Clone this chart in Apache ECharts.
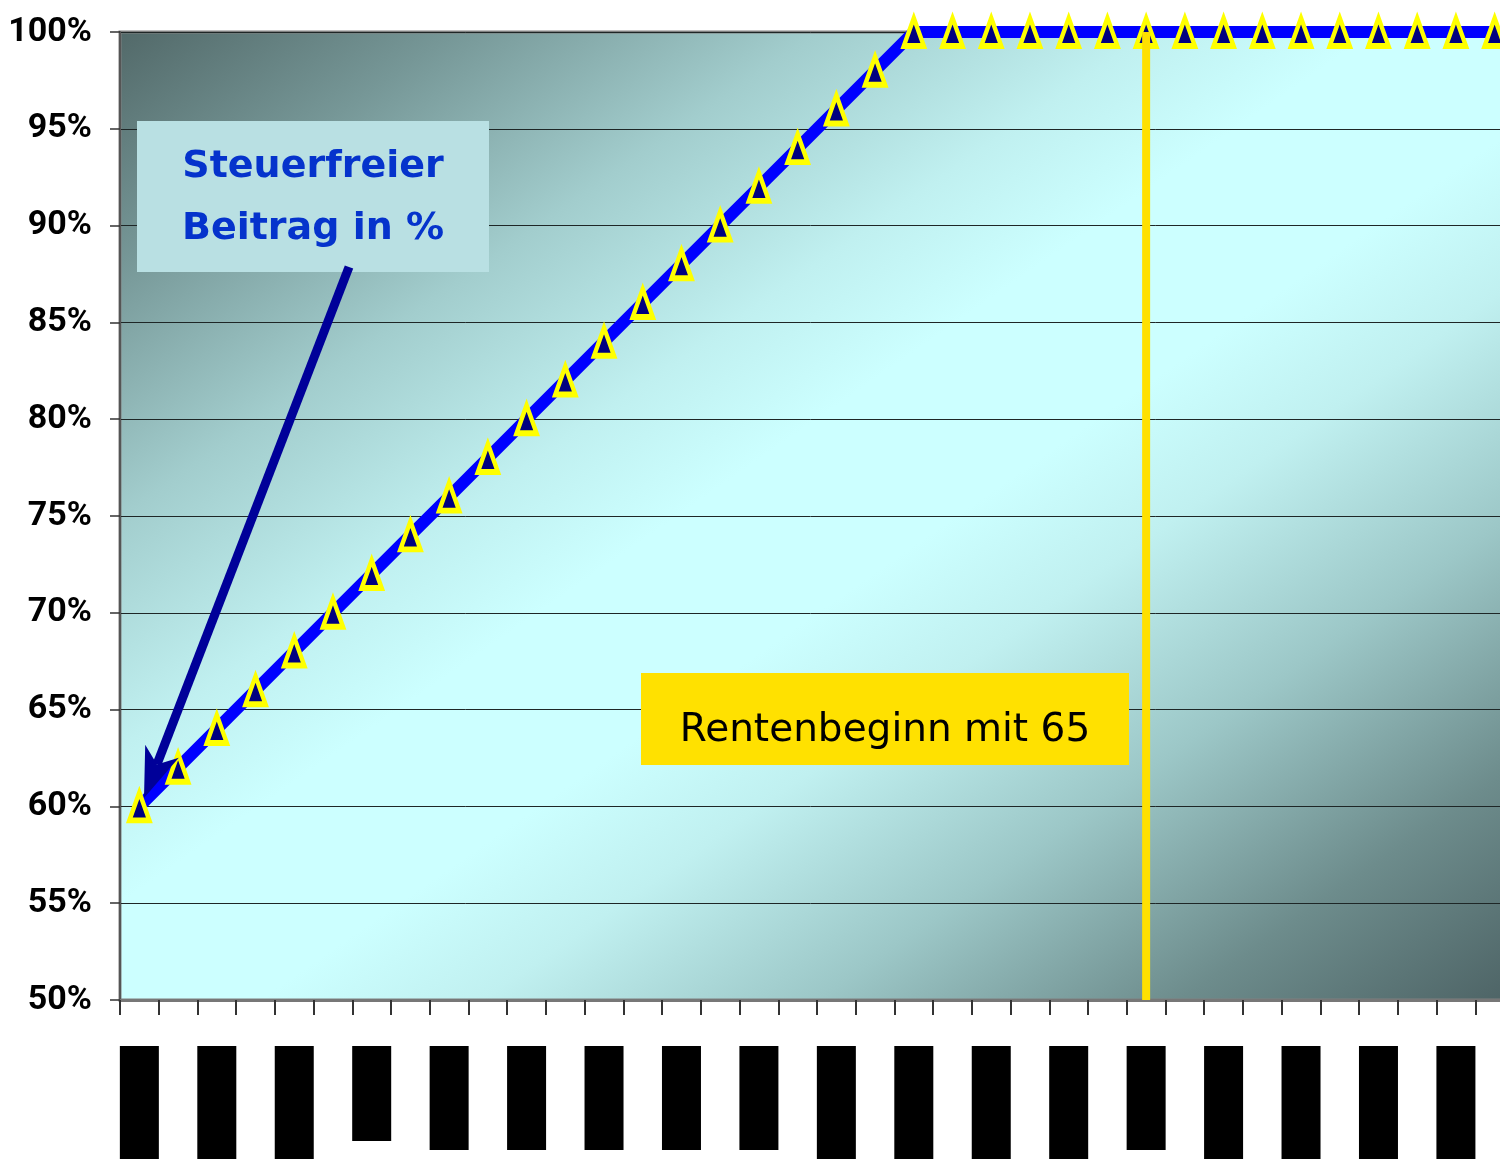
<!DOCTYPE html>
<html>
<head>
<meta charset="utf-8">
<script src="https://cdn.jsdelivr.net/npm/echarts@6/dist/echarts.min.js"></script>
<style>
html,body{margin:0;padding:0;background:#fff;}
#chart{width:1500px;height:1159px;}
</style>
</head>
<body>
<div id="chart"></div>
<script>
// ---- data ----
const years = ['2005','2006','2007','2008','2009','2010','2011','2012','2013','2014','2015','2016','2017','2018','2019','2020','2021','2022','2023','2024','2025','2026','2027','2028','2029','2030','2031','2032','2033','2034','2035','2036','2037','2038','2039','2040'];
const taxFreeShare = [60,62,64,66,68,70,72,74,76,78,80,82,84,86,88,90,92,94,96,98,100,100,100,100,100,100,100,100,100,100,100,100,100,100,100,100];
const yTicks = [50,55,60,65,70,75,80,85,90,95,100];
const retirementYear = '2031';
const labelSeries = 'Steuerfreier\nBeitrag in %';
const labelRetire = 'Rentenbeginn mit 65';

const chart = echarts.init(document.getElementById('chart'));

function yearLabel(v) {
  const ones = (v.match(/1/g) || []).length;
  return '{h' + ones + '|' + v + '}';
}
const boxBase = {width: 39, backgroundColor: '#000', color: '#000', fontSize: 12, align: 'center', padding: 0};

// plot area layout
const gLeft = 120, gTop = 32, gW = 1394, gH = 968;
// diagonal gradient whose iso-lines run parallel to the bottom-left/top-right diagonal
const k = 2 * gW * gH / (gW * gW + gH * gH);
const gx2 = gLeft + gH * k, gy2 = gTop + gW * k;

// arrow geometry (annotation, pixel space)
const tip = [144, 798];
const start = [349, 267];
const dx = tip[0] - start[0], dy = tip[1] - start[1];
const len = Math.sqrt(dx * dx + dy * dy);
const ux = dx / len, uy = dy / len;
const nx = -uy, ny = ux;
const L = 50, W = 18, notch = 14;
const bx = tip[0] - L * ux, by = tip[1] - L * uy;
const nxp = tip[0] - (L - notch) * ux, nyp = tip[1] - (L - notch) * uy;

const option = {
  animation: false,
  backgroundColor: '#ffffff',
  grid: {
    left: gLeft, top: gTop, width: gW, height: gH,
    containLabel: false,
    outerBoundsMode: 'none',
    show: true,
    borderColor: '#808080', borderWidth: 3,
    backgroundColor: new echarts.graphic.LinearGradient(gLeft, gTop, gx2, gy2, [
      {offset: 0, color: '#526969'},
      {offset: 0.12, color: '#769797'},
      {offset: 0.25, color: '#a2cdcd'},
      {offset: 0.37, color: '#c0f0f0'},
      {offset: 0.45, color: '#ccffff'},
      {offset: 0.55, color: '#ccffff'},
      {offset: 0.63, color: '#c0f0f0'},
      {offset: 0.75, color: '#9cc7c7'},
      {offset: 0.88, color: '#6d8c8c'},
      {offset: 1, color: '#4d6365'}
    ], true)
  },
  xAxis: {
    type: 'category',
    data: years,
    boundaryGap: true,
    axisLine: {show: true, lineStyle: {color: '#777', width: 3}},
    axisTick: {show: true, interval: 0, length: 15, lineStyle: {color: '#333', width: 2}},
    axisLabel: {
      interval: 1, margin: 46, verticalAlign: 'top', hideOverlap: false,
      formatter: yearLabel,
      rich: {
        h0: Object.assign({height: 118}, boxBase),
        h1: Object.assign({height: 104}, boxBase),
        h2: Object.assign({height: 95}, boxBase)
      }
    },
    splitLine: {show: false}
  },
  yAxis: {
    type: 'value',
    min: yTicks[0], max: yTicks[yTicks.length - 1], interval: 5,
    axisLine: {show: true, lineStyle: {color: '#555', width: 2}},
    axisTick: {show: true, length: 10, lineStyle: {color: '#333', width: 1.5}},
    axisLabel: {
      formatter: '{value}%', margin: 28,
      fontFamily: 'Roboto, "Liberation Sans", sans-serif',
      fontWeight: 'bold', fontSize: 34, color: '#000'
    },
    splitLine: {show: true, lineStyle: {color: '#1e2626', width: 1}}
  },
  series: [
    {
      type: 'line',
      data: taxFreeShare,
      z: 3,
      showAllSymbol: true,
      lineStyle: {color: '#0000ff', width: 12},
      symbol: 'triangle',
      symbolSize: [20, 28],
      itemStyle: {color: '#000080', borderColor: '#ffff00', borderWidth: 5},
      emphasis: {disabled: true}
    },
    {
      type: 'line',
      data: [[retirementYear, yTicks[yTicks.length - 1]], [retirementYear, yTicks[0]]],
      z: 5,
      showSymbol: false,
      symbol: 'none',
      lineStyle: {color: '#ffe000', width: 8},
      emphasis: {disabled: true}
    }
  ],
  graphic: [
    {type: 'rect', id: 'box1', z: 10, shape: {x: 137, y: 121, width: 352, height: 151}, style: {fill: '#b9e0e3'}},
    {type: 'text', id: 'txt1', z: 11, x: 313, y: 198,
      style: {text: labelSeries, align: 'center', verticalAlign: 'middle',
        font: 'bold 38px "DejaVu Sans", Verdana, sans-serif', fill: '#0533cc', lineHeight: 62}},
    {type: 'rect', id: 'box2', z: 10, shape: {x: 641, y: 673, width: 488, height: 92}, style: {fill: '#ffe100'}},
    {type: 'text', id: 'txt2', z: 11, x: 885, y: 731,
      style: {text: labelRetire, align: 'center', verticalAlign: 'middle',
        font: '39px "DejaVu Sans", Verdana, sans-serif', fill: '#000'}},
    {type: 'line', id: 'arrowShaft', z: 12, shape: {x1: start[0], y1: start[1], x2: nxp, y2: nyp},
      style: {stroke: '#000099', lineWidth: 9}},
    {type: 'polygon', id: 'arrowHead', z: 12, shape: {points: [
      tip, [bx + W * nx, by + W * ny], [nxp, nyp], [bx - W * nx, by - W * ny]
    ]}, style: {fill: '#000099'}}
  ]
};
chart.setOption(option);
</script>
</body>
</html>
